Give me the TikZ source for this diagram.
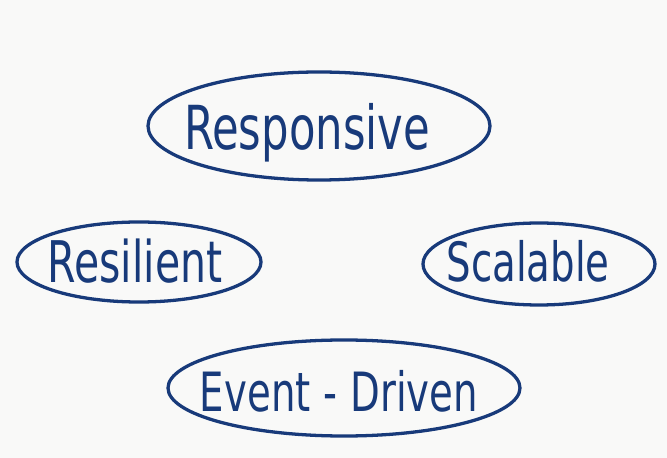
\documentclass[tikz,border=0pt]{standalone}
\usepackage{fontspec}
\usepackage{graphicx}
\setmainfont{DejaVu Sans}
\usetikzlibrary{positioning}

\definecolor{inkblue}{RGB}{24,58,122}
\definecolor{paper}{RGB}{249,249,248}
\newcommand{\tallword}[1]{\scalebox{1}[1.4]{#1}}

\begin{document}
\begin{tikzpicture}[
    x=0.03cm, y=-0.03cm,
    ring/.style={draw=inkblue, line width=2.8pt},
    word/.style={anchor=base, text=inkblue, inner sep=0pt, font=\fontsize{35}{40}\selectfont},
  ]
  \fill[paper] (0,0) rectangle (667,458);
  \useasboundingbox (0,0) rectangle (667,458);

  % centres of the rings
  \coordinate (respC) at (319,126);
  \coordinate (resiC) at (139,262);
  \coordinate (scalC) at (539,264);
  \coordinate (evenC) at (344,388);

  \draw[ring] (respC) ellipse [x radius=171, y radius=54];
  \draw[ring] (resiC) ellipse [x radius=122, y radius=40];
  \draw[ring] (scalC) ellipse [x radius=116, y radius=41];
  \draw[ring] (evenC) ellipse [x radius=176, y radius=48];

  \node[word, font=\fontsize{37}{42}\selectfont] (resp) at (307,150) {\tallword{Responsive}};
  \node[word] (resi) at (135,283) {\tallword{Resilient}};
  \node[word, font=\fontsize{33}{38}\selectfont] (scal) at (528,282) {\tallword{Scalable}};
  \node[word, font=\fontsize{33}{38}\selectfont] (even) at (339,412) {\tallword{Event\,\,-\,\,Driven}};
\end{tikzpicture}
\end{document}
